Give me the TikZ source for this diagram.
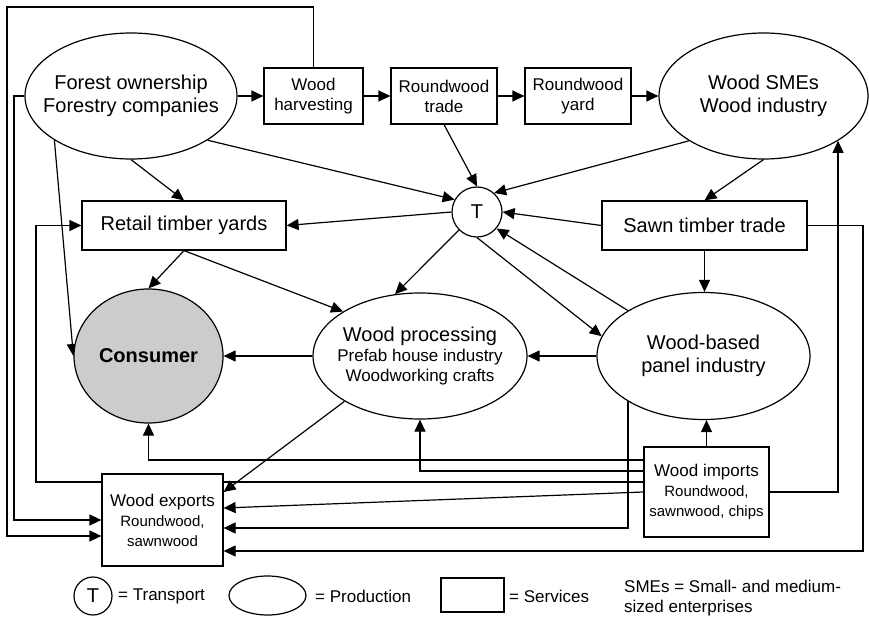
\documentclass[tikz,border=0pt]{standalone}
\usepackage{fontspec}
\setmainfont{Liberation Sans}
\usetikzlibrary{arrows.meta,shapes.geometric,calc}
\pgfdeclarelayer{bg}
\pgfsetlayers{bg,main}

\begin{document}
\begin{tikzpicture}[x=1pt,y=-1pt,
  big/.style={font=\fontsize{20}{23}\selectfont},
  mid/.style={font=\fontsize{17}{20}\selectfont},
  prod/.style={ellipse,draw,line width=1.2pt,fill=white,inner xsep=-20pt,inner ysep=0pt,align=center},
  serv/.style={rectangle,draw,line width=1.2pt,fill=white,inner sep=0pt,align=center},
  trans/.style={circle,draw,line width=1.2pt,fill=white,inner sep=0pt,minimum size=50pt,big},
  flow/.style={line width=1.2pt,-{Triangle[length=12pt,width=11pt]}},
  legtext/.style={mid,inner sep=0pt,anchor=west,align=left},
]
\useasboundingbox (0,0) rectangle (869,617);

% production, services and transport nodes
\node[prod,big,minimum width=212pt,minimum height=126pt] (forest) at (131,96) {Forest ownership\\Forestry companies};
\node[serv,mid,minimum width=99pt,minimum height=56pt] (harv) at (313.5,96) {Wood\\harvesting};
\node[serv,mid,minimum width=106pt,minimum height=56pt] (rtrade) at (444,96) {Roundwood\\trade};
\node[serv,mid,minimum width=106pt,minimum height=56pt] (ryard) at (578,96) {Roundwood\\yard};
\node[prod,big,minimum width=209pt,minimum height=126pt] (smes) at (763.5,96) {Wood SMEs\\Wood industry};
\node[trans] (T) at (477,212) {T};
\node[serv,big,minimum width=204pt,minimum height=49pt] (retail) at (184,225.5) {Retail timber yards};
\node[serv,big,minimum width=205pt,minimum height=49pt] (sawn) at (704.5,225.5) {Sawn timber trade};
\node[prod,fill=black!20,font=\fontsize{20}{23}\selectfont\bfseries,minimum width=149pt,minimum height=134pt] (consumer) at (148.5,356) {Consumer};
\node[prod,mid,minimum width=214pt,minimum height=126pt] (proc) at (420,356) {{\fontsize{20}{23}\selectfont Wood processing}\\Prefab house industry\\Woodworking crafts};
\node[prod,big,minimum width=213pt,minimum height=127pt] (panel) at (703.5,356) {Wood-based\\panel industry};
\node[serv,mid,minimum width=121pt,minimum height=92pt] (exports) at (162.5,520) {Wood exports\\{\fontsize{15}{17}\selectfont Roundwood,}\\{\fontsize{15}{17}\selectfont sawnwood}};
\node[serv,mid,minimum width=125pt,minimum height=90pt] (imports) at (706.5,492) {Wood imports\\{\fontsize{15}{17}\selectfont Roundwood,}\\{\fontsize{15}{17}\selectfont sawnwood, chips}};

% legend
\node[trans,minimum size=38pt] (lt) at (93,596) {T};
\node[legtext] (ltt) at (118,596) {= Transport};
\node[prod,minimum width=77pt,minimum height=39pt] (le) at (267.5,595.5) {};
\node[legtext] (let) at (315,596) {= Production};
\node[serv,minimum width=63pt,minimum height=34pt] (ls) at (472.5,595) {};
\node[legtext] (lst) at (509,596) {= Services};
\node[legtext] (lsme) at (624,598) {SMEs = Small- and medium-\\sized enterprises};

% material flows
\begin{pgfonlayer}{bg}
\fill[white] (0,0) rectangle (869,617);
\draw[flow] (forest.east) -- (harv.west);
\draw[flow] (harv.east) -- (rtrade.west);
\draw[flow] (rtrade.east) -- (ryard.west);
\draw[flow] (ryard.east) -- (smes.west);
\draw[flow] (harv.north) |- (7,7) |- ($(exports.west)+(0,16)$);
\draw[flow] (forest.west) -| (14,520) -- (exports.west);
\draw[flow] ($(imports.west)+(0,-10)$) -| (36,225.5) -- (retail.west);
\draw[flow] ($(imports.west)+(0,-32)$) -| (consumer.south);
\draw[flow] ($(imports.west)+(0,-21)$) -| (proc.south);
\draw[flow] (imports.west) -- ($(exports.east)+(0,-12)$);
\draw[flow] (panel.211) |- ($(exports.east)+(0,8)$);
\draw[flow] (sawn.east) -| (863,551) -- ($(exports.east)+(0,31)$);
\draw[flow] (imports.east) -| (smes.-31);
\draw[flow] (imports.north) -- (imports.north |- panel.south);
\draw[flow] (proc.211) -- ($(exports.east)+(0,-28)$);
\draw[flow] (forest.south) -- (retail.north);
\draw[flow] (forest.210) -- (consumer.west);
\draw[flow] (forest.-30) -- (T.151);
\draw[flow] (rtrade.south) -- (T.north);
\draw[flow] (smes.211) -- (T.48);
\draw[flow] (smes.south) -- (sawn.north);
\draw[flow] (T.west) -- (retail.east);
\draw[flow] (sawn.west) -- (T.east);
\draw[flow] (sawn.south) -- (sawn.south |- panel.north);
\draw[flow] (T.225) -- (proc.112);
\draw[flow] (T.south) -- (panel.169);
\draw[flow] (panel.149) -- (T.-40);
\draw[flow] (retail.south) -- (consumer.north);
\draw[flow] (retail.south) -- (proc.150);
\draw[flow] (proc.west) -- (consumer.east);
\draw[flow] (panel.west) -- (proc.east);
\end{pgfonlayer}
\end{tikzpicture}
\end{document}
